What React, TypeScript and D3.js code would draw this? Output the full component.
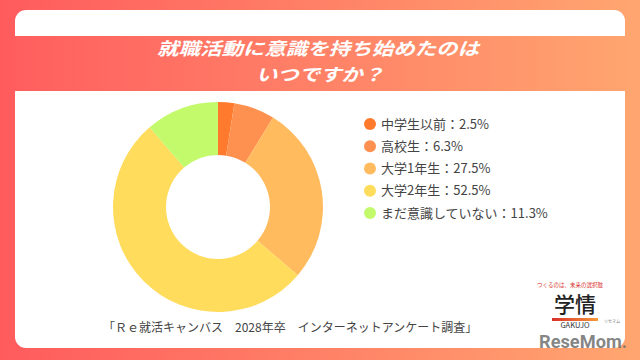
import React from "react";
import * as d3 from "d3";

const categories = ["中学生以前", "高校生", "大学1年生", "大学2年生", "まだ意識していない"];
const values = [2.5, 6.3, 27.5, 52.5, 11.3];
const colors = ["#ff7a2c", "#ff9150", "#ffbb5e", "#ffdc5c", "#c2fa6c"];
const titleLines = ["就職活動に意識を持ち始めたのは", "いつですか？"];
const sourceText = "「Ｒｅ就活キャンバス　2028年卒　インターネットアンケート調査」";

const W = 640;
const H = 360;
const cx = 218;
const cy = 207;
const outerR = 105;
const innerR = 52;

export default function App() {
  const pie = d3
    .pie<number>()
    .sort(null)
    .value((d) => d)
    .startAngle(0)
    .endAngle(2 * Math.PI);
  const arcs = pie(values);
  const arc = d3.arc<d3.PieArcDatum<number>>().innerRadius(innerR).outerRadius(outerR);

  const legendY = d3.scaleLinear().domain([0, categories.length - 1]).range([124, 213]);
  const font = "'Noto Sans CJK JP', 'Noto Sans', sans-serif";

  return (
    <svg
      width={W}
      height={H}
      style={{ position: "absolute", left: 0, top: 0, display: "block" }}
      viewBox={`0 0 ${W} ${H}`}
    >
      <defs>
        <linearGradient id="bg" x1="0" x2="1" y1="0" y2="0">
          <stop offset="0" stopColor="#ff5b5d" />
          <stop offset="1" stopColor="#ffa670" />
        </linearGradient>
        <linearGradient id="band" x1="0" x2="1" y1="0" y2="0">
          <stop offset="0" stopColor="#ff5f5f" />
          <stop offset="1" stopColor="#ffa46f" />
        </linearGradient>
        <linearGradient id="bar" x1="0" x2="1" y1="0" y2="0">
          <stop offset="0" stopColor="#d9302a" />
          <stop offset="1" stopColor="#f59a3a" />
        </linearGradient>
      </defs>
      <rect x={0} y={0} width={W} height={H} fill="url(#bg)" />
      <rect x={15} y={10} width={610} height={338} rx={11} ry={11} fill="#ffffff" />
      <rect x={15} y={36} width={610} height={55} fill="url(#band)" />
      <text
        x={318}
        y={54.5}
        textAnchor="middle"
        fontFamily={font}
        fontWeight={700}
        fontStyle="italic"
        fontSize={17.5}
        fill="#ffffff"
        textLength={322}
        lengthAdjust="spacingAndGlyphs"
      >
        {titleLines[0]}
      </text>
      <text
        x={320}
        y={80.5}
        textAnchor="middle"
        fontFamily={font}
        fontWeight={700}
        fontStyle="italic"
        fontSize={17.5}
        fill="#ffffff"
        textLength={128}
        lengthAdjust="spacingAndGlyphs"
      >
        {titleLines[1]}
      </text>
      <g transform={`translate(${cx},${cy})`}>
        {arcs.map((a, i) => (
          <path key={i} d={arc(a) || ""} fill={colors[i]} />
        ))}
      </g>
      {categories.map((c, i) => (
        <g key={c} transform={`translate(370,${legendY(i)})`}>
          <circle r={6} fill={colors[i]} />
          <text
            x={11}
            y={0}
            dy="0.36em"
            fontFamily={font}
            fontSize={13}
            fill="#444"
          >
            {`${c}：${values[i].toFixed(1)}%`}
          </text>
        </g>
      ))}
      <text
        x={103}
        y={332}
        fontFamily={font}
        fontSize={12}
        fill="#444"
      >
        {sourceText}
      </text>
      <g>
        <text x={570} y={287} textAnchor="middle" fontFamily={font} fontSize={5.5} fill="#d9302a">
          つくるのは、未来の選択肢
        </text>
        <text x={575} y={312} textAnchor="middle" fontFamily={font} fontSize={21} fontWeight={500} fill="#222">
          学情
        </text>
        <rect x={552} y={318} width={46} height={3} fill="url(#bar)" />
        <text x={575} y={328} textAnchor="middle" fontFamily={font} fontSize={7.5} fill="#333">
          GAKUJO
        </text>
        <text x={612} y={323} textAnchor="middle" fontFamily={font} fontSize={4} fill="#777">
          リセマム
        </text>
        <text
          x={627}
          y={348}
          textAnchor="end"
          fontFamily="'Liberation Sans Narrow', 'Roboto', sans-serif"
          fontWeight={700}
          fontSize={18}
          fill="#6f6f6f"
          fillOpacity={0.85}
          textLength={88}
          lengthAdjust="spacingAndGlyphs"
        >
          ReseMom.
        </text>
      </g>
    </svg>
  );
}
